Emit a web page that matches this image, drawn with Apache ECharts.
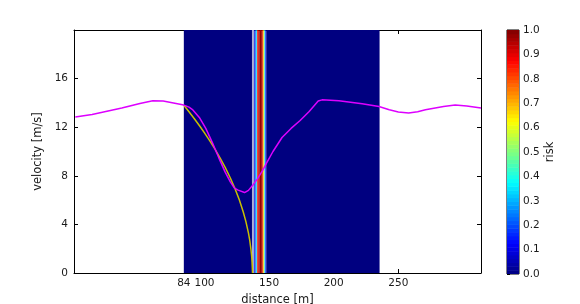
<!DOCTYPE html>
<html>
<head>
<meta charset="utf-8">
<script src="https://cdn.jsdelivr.net/npm/echarts@6/dist/echarts.min.js"></script>
<style>html,body{margin:0;padding:0;background:#fff;}#c{width:580px;height:304px;}</style>
</head>
<body>
<div id="c"></div>
<script>
// ---- data ----
const xTicks = [84, 100, 150, 200, 250];
const yTicks = [0, 4, 8, 12, 16];
const cbTicks = [0, 0.1, 0.2, 0.3, 0.4, 0.5, 0.6, 0.7, 0.8, 0.9, 1.0];

// risk field columns over distance (edges) with their risk value
const riskEdges  = [84, 138.6, 139.4, 140.1, 140.8, 141.6, 142.4, 144.4, 145.1, 145.8, 146.4, 147.1, 147.8, 235.5];
const riskValues = [0,  0.15,  0.25,  0.35,  0.85,  0.93,  0.98,  0.92,  0.72,  0.6,   0.35,  0.15,  0];

const stopLineX = 137.5;

// magenta: vehicle velocity profile
const profileD = [0, 13, 36, 50, 60, 68, 76, 84, 88, 91, 96, 101, 106, 111, 116, 120, 123, 126, 131, 134, 137.5, 141, 145, 148, 153, 160, 167, 174, 181, 188, 191, 204, 222, 235, 243, 250, 258, 265, 271, 285, 294, 303, 314];
const profileV = [12.84, 13.05, 13.58, 13.95, 14.18, 14.15, 14.0, 13.82, 13.65, 13.42, 12.8, 11.9, 10.75, 9.5, 8.3, 7.5, 7.0, 6.82, 6.62, 6.8, 7.25, 7.75, 8.45, 9.05, 10.0, 11.15, 11.9, 12.55, 13.3, 14.15, 14.25, 14.18, 13.93, 13.71, 13.44, 13.25, 13.17, 13.28, 13.44, 13.7, 13.83, 13.75, 13.58];

// yellow: braking curve
const brakeD = [84, 88, 92, 96, 100, 104, 108, 112, 116, 120, 124, 127, 130, 132, 134, 135, 136, 136.5, 136.8, 137.0, 137.2];
const brakeV = [13.8, 13.27, 12.72, 12.14, 11.53, 10.89, 10.21, 9.48, 8.69, 7.82, 6.84, 6.0, 5.02, 4.25, 3.3, 2.7, 1.9, 1.38, 0.91, 0.5, 0];

// ---- helpers ----
function clamp(v){ return Math.max(0, Math.min(1, v)); }
function jet(v){
  const r = clamp(1.5 - Math.abs(4*v - 3));
  const g = clamp(1.5 - Math.abs(4*v - 2));
  const b = clamp(1.5 - Math.abs(4*v - 1));
  return 'rgb(' + Math.round(r*255) + ',' + Math.round(g*255) + ',' + Math.round(b*255) + ')';
}

const heatData = riskValues.map((v, i) => [riskEdges[i], riskEdges[i+1], v]);
const cbN = 64;
const cbData = [];
for (let i = 0; i < cbN; i++) cbData.push([i/cbN, (i+1)/cbN, (i+0.5)/cbN]);

const font = 'DejaVu Sans';
const txt = '#1a1a1a';

const chart = echarts.init(document.getElementById('c'), null, {renderer: 'canvas'});
chart.setOption({
  animation: false,
  backgroundColor: '#fff',
  textStyle: {fontFamily: font},
  grid: [
    {left: 74, top: 30, width: 407, height: 243, containLabel: false, outerBoundsMode: 'none'},
    {left: 507, top: 30, width: 12, height: 244, containLabel: false, outerBoundsMode: 'none', show: true, borderColor: '#000', borderWidth: 1}
  ],
  xAxis: [
    {type: 'value', gridIndex: 0, min: -1, max: 314, position: 'bottom',
     name: 'distance [m]', nameLocation: 'middle', nameGap: 15,
     nameTextStyle: {fontSize: 11.5, color: txt, fontFamily: font},
     axisLine: {show: true, onZero: false, lineStyle: {color: '#000', width: 1}},
     axisTick: {show: true, inside: true, length: 4, customValues: xTicks, lineStyle: {color: '#000'}},
     axisLabel: {show: true, customValues: xTicks, margin: 5, fontSize: 10.5, color: txt, fontFamily: font},
     splitLine: {show: false}},
    {type: 'value', gridIndex: 0, min: -1, max: 314, position: 'top',
     axisLine: {show: true, onZero: false, lineStyle: {color: '#000', width: 1}},
     axisTick: {show: true, inside: true, length: 4, customValues: xTicks, lineStyle: {color: '#000'}},
     axisLabel: {show: false}, splitLine: {show: false}},
    {type: 'value', gridIndex: 1, min: 0, max: 1, show: false}
  ],
  yAxis: [
    {type: 'value', gridIndex: 0, min: 0, max: 20, position: 'left',
     name: 'velocity [m/s]', nameLocation: 'middle', nameGap: 18, nameRotate: 90,
     nameTextStyle: {fontSize: 11.5, color: txt, fontFamily: font},
     axisLine: {show: true, onZero: false, lineStyle: {color: '#000', width: 1}},
     axisTick: {show: true, inside: true, length: 4, customValues: yTicks, lineStyle: {color: '#000'}},
     axisLabel: {show: true, customValues: yTicks, margin: 6, fontSize: 10.5, color: txt, fontFamily: font},
     splitLine: {show: false}},
    {type: 'value', gridIndex: 0, min: 0, max: 20, position: 'right',
     axisLine: {show: true, onZero: false, lineStyle: {color: '#000', width: 1}},
     axisTick: {show: true, inside: true, length: 4, customValues: yTicks, lineStyle: {color: '#000'}},
     axisLabel: {show: false}, splitLine: {show: false}},
    {type: 'value', gridIndex: 1, min: 0, max: 1, interval: 0.1, position: 'right',
     name: 'risk', nameLocation: 'middle', nameGap: 24, nameRotate: 90,
     nameTextStyle: {fontSize: 11.5, color: txt, fontFamily: font},
     axisLine: {show: false},
     axisTick: {show: true, inside: false, length: 3, lineStyle: {color: '#000'}},
     axisLabel: {show: true, margin: 4, fontSize: 10.5, color: txt, fontFamily: font,
                 formatter: v => v.toFixed(1)},
     splitLine: {show: false}}
  ],
  series: [
    {type: 'custom', xAxisIndex: 0, yAxisIndex: 0, clip: true, z: 1,
     data: heatData,
     renderItem: function(params, api){
       const p0 = api.coord([api.value(0), 20]);
       const p1 = api.coord([api.value(1), 0]);
       return {type: 'rect', shape: {x: p0[0], y: p0[1], width: p1[0]-p0[0], height: p1[1]-p0[1]},
               style: {fill: jet(api.value(2)), stroke: null}};
     }},
    {type: 'line', xAxisIndex: 0, yAxisIndex: 0, z: 3, symbol: 'none', silent: true,
     data: [[stopLineX, 0], [stopLineX, 20]],
     lineStyle: {color: 'rgba(255,255,255,0.68)', width: 2}},
    {type: 'line', xAxisIndex: 0, yAxisIndex: 0, z: 4, symbol: 'none', smooth: false,
     data: brakeD.map((d, i) => [d, brakeV[i]]),
     lineStyle: {color: '#c8c000', width: 1.5}},
    {type: 'line', xAxisIndex: 0, yAxisIndex: 0, z: 5, symbol: 'none', smooth: false,
     data: profileD.map((d, i) => [d, profileV[i]]),
     lineStyle: {color: '#dd00ff', width: 1.5}},
    {type: 'custom', xAxisIndex: 2, yAxisIndex: 2, clip: true, z: 1,
     data: cbData,
     renderItem: function(params, api){
       const p0 = api.coord([0, api.value(1)]);
       const p1 = api.coord([1, api.value(0)]);
       return {type: 'rect', shape: {x: p0[0], y: p0[1], width: p1[0]-p0[0], height: p1[1]-p0[1] + 0.5},
               style: {fill: jet(api.value(2)), stroke: null}};
     }}
  ]
});
</script>
</body>
</html>
